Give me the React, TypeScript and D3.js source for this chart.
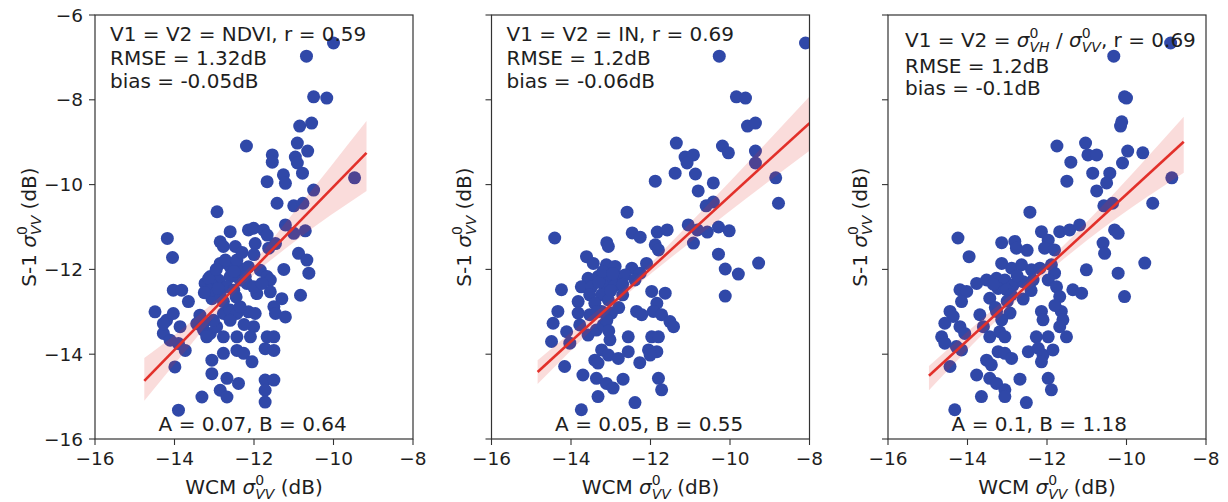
import React from "react";
import * as d3 from "d3";

// S-1 vs WCM backscatter, three model variants (dB)
const ndviPoints: [number, number][] = [
  [-10.0, -6.66], [-10.68, -6.97], [-10.5, -7.93], [-10.17, -7.96], [-10.85, -8.62], [-10.55, -8.55],
  [-12.19, -9.09], [-11.54, -9.3], [-11.54, -9.47], [-10.91, -9.02], [-10.65, -9.21], [-10.96, -9.35],
  [-10.91, -9.49], [-10.78, -9.73], [-11.26, -9.77], [-9.47, -9.84],
  [-11.67, -9.93], [-11.21, -9.97], [-10.5, -10.13], [-11.42, -10.44], [-11.0, -10.5], [-10.77, -10.44],
  [-12.93, -10.64], [-14.18, -11.27], [-14.05, -11.72], [-12.6, -11.11], [-12.14, -11.07], [-12.01, -11.03],
  [-11.76, -11.07], [-11.67, -11.19], [-11.21, -10.95], [-11.0, -11.15], [-10.71, -11.09], [-12.85, -11.35],
  [-12.77, -11.46], [-12.47, -11.46], [-11.97, -11.39], [-11.63, -11.5], [-11.46, -11.39], [-10.88, -11.62],
  [-10.67, -11.78], [-10.62, -12.09], [-11.25, -12.0], [-12.85, -11.86], [-12.6, -11.94], [-12.35, -11.98],
  [-12.14, -11.94], [-11.84, -12.02], [-13.1, -12.17], [-12.89, -12.25], [-12.6, -12.17], [-12.35, -12.25],
  [-12.18, -12.33], [-11.67, -12.17], [-11.59, -12.25], [-13.23, -12.33], [-13.02, -12.41], [-12.68, -12.41],
  [-12.51, -12.49], [-11.93, -12.57], [-11.59, -12.53], [-11.3, -12.69], [-10.83, -12.61], [-14.03, -12.49],
  [-13.82, -12.49], [-13.65, -12.76], [-13.06, -12.69], [-12.85, -12.61], [-14.49, -13.0], [-14.2, -13.2],
  [-14.03, -13.04], [-13.86, -13.35], [-14.28, -13.51], [-14.11, -13.67], [-13.9, -13.75], [-13.73, -13.91],
  [-13.36, -13.08], [-13.27, -13.43], [-13.1, -13.51], [-12.94, -13.35], [-12.77, -13.04], [-12.6, -12.96],
  [-12.43, -13.04], [-12.14, -13.0], [-11.97, -13.04], [-12.01, -13.35], [-11.5, -12.88], [-11.46, -13.04],
  [-11.21, -13.12], [-12.77, -13.59], [-12.43, -13.59], [-12.09, -13.59], [-11.67, -13.59], [-11.5, -13.59],
  [-11.72, -13.87], [-11.5, -13.91], [-12.77, -13.98], [-12.43, -13.91], [-12.26, -13.98], [-12.05, -14.18],
  [-13.06, -14.14], [-13.06, -14.46], [-12.68, -14.57], [-12.39, -14.69], [-11.72, -14.61], [-11.5, -14.61],
  [-13.99, -14.3], [-13.31, -15.01], [-12.85, -14.85], [-12.68, -15.01], [-11.72, -14.85], [-11.72, -15.13],
  [-13.9, -15.32], [-13.14, -12.21], [-12.72, -11.78], [-12.43, -11.78], [-12.22, -12.17], [-12.01, -12.41],
  [-11.8, -12.33], [-13.1, -12.49], [-12.77, -12.76], [-12.6, -13.2], [-12.35, -12.88], [-13.02, -13.2],
  [-13.44, -13.28], [-13.19, -13.59], [-14.28, -13.28], [-12.95, -12.0], [-12.5, -12.05], [-12.9, -12.45],
  [-12.45, -12.65], [-13.25, -12.55], [-12.3, -11.6], [-12.0, -11.65], [-13.25, -13.25], [-12.25, -13.3],
];

const inPoints: [number, number][] = [
  [-8.1, -6.66], [-10.27, -6.97], [-9.84, -7.93], [-9.61, -7.96], [-9.56, -8.62], [-9.36, -8.55],
  [-11.35, -9.02], [-10.19, -9.09], [-10.04, -9.25], [-9.36, -9.21], [-9.36, -9.49], [-11.13, -9.35],
  [-10.92, -9.3], [-11.08, -9.49], [-11.38, -9.73], [-10.87, -9.75], [-11.88, -9.92], [-10.42, -9.96],
  [-10.8, -10.15], [-8.85, -9.84], [-8.78, -10.44], [-10.6, -10.5], [-10.42, -10.41], [-12.59, -10.65],
  [-14.41, -11.26], [-12.46, -11.14], [-12.26, -11.24], [-11.83, -11.12], [-11.58, -11.07], [-11.05, -10.95],
  [-10.82, -11.07], [-10.57, -11.12], [-10.29, -11.0], [-10.02, -11.09], [-13.1, -11.37], [-11.88, -11.42],
  [-10.92, -11.38], [-10.29, -11.64], [-9.28, -11.85], [-10.12, -11.99], [-9.79, -12.11], [-10.12, -12.63],
  [-13.06, -11.46], [-11.8, -11.54], [-13.61, -11.7], [-13.44, -11.86], [-13.11, -11.89], [-12.89, -11.93],
  [-12.47, -11.97], [-12.26, -12.09], [-12.1, -11.86], [-13.57, -12.21], [-13.32, -12.17], [-13.06, -12.25],
  [-12.81, -12.17], [-12.64, -12.13], [-12.39, -12.25], [-13.74, -12.41], [-13.48, -12.41], [-13.15, -12.41],
  [-12.89, -12.37], [-14.24, -12.48], [-13.82, -12.76], [-13.53, -12.6], [-13.23, -12.6], [-13.06, -12.72],
  [-11.97, -12.52], [-11.63, -12.56], [-11.84, -12.8], [-14.33, -12.99], [-13.82, -13.03], [-13.53, -13.07],
  [-13.23, -12.99], [-12.98, -13.03], [-12.35, -12.99], [-12.22, -13.07], [-11.93, -12.99], [-11.72, -13.07],
  [-11.51, -13.23], [-11.42, -13.35], [-14.45, -13.27], [-14.11, -13.47], [-13.78, -13.31], [-13.57, -13.55],
  [-13.36, -13.43], [-13.19, -13.31], [-13.02, -13.66], [-14.49, -13.7], [-14.03, -13.74], [-12.56, -13.59],
  [-11.97, -13.59], [-11.8, -13.59], [-13.23, -13.9], [-13.06, -14.02], [-12.56, -13.94], [-12.05, -13.9],
  [-11.84, -13.94], [-12.01, -14.02], [-12.81, -14.1], [-13.4, -14.14], [-13.32, -14.21], [-12.27, -14.2],
  [-14.16, -14.29], [-13.7, -14.49], [-13.36, -14.57], [-13.11, -14.69], [-12.69, -14.59], [-12.94, -14.8],
  [-11.8, -14.57], [-11.72, -14.84], [-13.32, -15.0], [-12.39, -15.14], [-13.74, -15.31],
  [-13.3, -12.3], [-13.0, -12.5], [-12.7, -12.6], [-13.4, -12.8], [-13.1, -13.2], [-12.8, -12.9],
  [-13.2, -12.05], [-12.95, -12.1], [-13.35, -13.0], [-13.05, -13.45], [-12.7, -12.35],
];

const ratioPoints: [number, number][] = [
  [-8.89, -6.66], [-10.32, -6.97], [-10.05, -7.93], [-10.0, -7.96], [-10.15, -8.62], [-10.12, -8.52],
  [-11.75, -9.09], [-11.03, -9.02], [-10.97, -9.3], [-10.75, -9.3], [-11.4, -9.47], [-9.97, -9.21],
  [-9.59, -9.25], [-10.1, -9.49], [-10.85, -9.73], [-11.5, -9.92], [-10.42, -9.73], [-10.5, -9.96],
  [-10.75, -10.15], [-8.86, -9.84], [-9.34, -10.44], [-10.57, -10.5], [-10.35, -10.44], [-12.43, -10.65],
  [-14.24, -11.26], [-13.96, -11.7], [-13.14, -11.37], [-12.81, -11.34], [-12.77, -11.5], [-12.14, -11.11],
  [-11.97, -11.31], [-11.68, -11.11], [-11.43, -11.07], [-11.18, -10.95], [-12.06, -11.5], [-11.81, -11.54],
  [-10.59, -11.38], [-10.55, -11.62], [-10.3, -11.07], [-10.21, -11.15], [-11.01, -12.01], [-10.21, -12.09],
  [-10.05, -12.64], [-9.54, -11.85], [-13.14, -11.86], [-12.89, -11.97], [-12.64, -11.89], [-12.39, -12.01],
  [-12.18, -11.97], [-11.89, -11.89], [-11.81, -12.09], [-13.77, -12.33], [-13.52, -12.25], [-13.27, -12.21],
  [-13.06, -12.25], [-12.85, -12.37], [-12.6, -12.29], [-12.35, -12.25], [-11.97, -12.25], [-14.19, -12.48],
  [-14.02, -12.52], [-14.15, -12.76], [-13.44, -12.68], [-13.23, -12.45], [-13.02, -12.48], [-11.76, -12.41],
  [-11.68, -12.64], [-11.35, -12.48], [-11.13, -12.56], [-14.44, -12.99], [-14.36, -13.11], [-14.57, -13.27],
  [-14.65, -13.59], [-14.57, -13.74], [-14.19, -13.35], [-14.07, -13.51], [-13.69, -13.07], [-13.27, -12.99],
  [-12.93, -13.03], [-13.14, -13.19], [-13.6, -13.35], [-13.44, -13.59], [-13.19, -13.47], [-13.06, -13.59],
  [-12.14, -12.99], [-12.1, -13.19], [-11.64, -12.99], [-11.6, -13.19], [-11.68, -13.35], [-11.51, -13.59],
  [-12.27, -13.59], [-11.97, -13.59], [-14.28, -13.82], [-14.15, -13.9], [-13.23, -13.94], [-13.06, -13.98],
  [-12.89, -14.1], [-12.47, -13.94], [-12.22, -13.86], [-12.1, -14.02], [-11.85, -13.9], [-12.14, -14.18],
  [-13.52, -14.14], [-13.4, -14.25], [-14.44, -14.29], [-13.77, -14.49], [-13.44, -14.57], [-13.27, -14.69],
  [-13.06, -14.84], [-13.06, -15.0], [-12.68, -14.59], [-11.97, -14.57], [-11.89, -14.84], [-13.65, -15.0],
  [-12.52, -15.14], [-14.32, -15.31], [-12.9, -12.6], [-12.6, -12.7], [-13.3, -12.9], [-12.4, -12.5],
  [-13.35, -12.35], [-12.75, -12.15], [-13.0, -12.75], [-11.8, -12.85], [-12.5, -11.55],
];

// fitted line ends and confidence band
const ndviFit: [number, number][] = [[-14.76, -14.63], [-9.17, -9.25]];
const inFit: [number, number][] = [[-14.84, -14.42], [-8.0, -8.55]];
const ratioFit: [number, number][] = [[-14.97, -14.51], [-8.56, -8.99]];

const ndviBand = { x: [-14.76, -13.5, -12.3, -11.0, -9.17], hi: [-14.09, -13.17, -12.14, -10.66, -8.5], lo: [-15.1, -13.67, -12.38, -11.36, -10.15] };
const inBand = { x: [-14.84, -13.5, -12.6, -11.0, -8.0], hi: [-14.14, -13.1, -12.4, -10.9, -7.92], lo: [-14.7, -13.44, -12.6, -11.36, -9.2] };
const ratioBand = { x: [-14.97, -13.5, -12.5, -11.0, -8.56], hi: [-14.28, -13.06, -12.26, -10.88, -8.4], lo: [-14.85, -13.42, -12.5, -11.32, -9.72] };

const xTicks = [-16, -14, -12, -10, -8];
const yTicks = [-16, -14, -12, -10, -8, -6];

const stats = [
  { head: "NDVI", r: "0.59", rmse: "1.32dB", bias: "-0.05dB", ab: "A = 0.07, B = 0.64" },
  { head: "IN", r: "0.69", rmse: "1.2dB", bias: "-0.06dB", ab: "A = 0.05, B = 0.55" },
  { head: "ratio", r: "0.69", rmse: "1.2dB", bias: "-0.1dB", ab: "A = 0.1, B = 1.18" },
];

const W = 1228, H = 502;
const panelLeft = [95, 491.5, 888];
const panelW = 318;
const top = 15, bottom = 439;
const dot = "#3048a8";
const red = "#e2302a";
const ink = "#1e1e1e";
const FONT = "DejaVu Sans, sans-serif";

// sigma with stacked 0 and subscript (matplotlib mathtext look); `after` goes back on the baseline
function Sigma({ sub, after }: { sub: string; after: string }) {
  return (
    <>
      <tspan fontStyle="italic">σ</tspan>
      <tspan fontSize={14} dy={-9}>0</tspan>
      <tspan fontSize={14} fontStyle="italic" dx={-8.9} dy={14}>{sub}</tspan>
      <tspan dy={-5}>{after}</tspan>
    </>
  );
}

function Panel({ idx, pts, fit, band }: { idx: number; pts: [number, number][]; fit: [number, number][]; band: { x: number[]; hi: number[]; lo: number[] } }) {
  const left = panelLeft[idx];
  const x = d3.scaleLinear().domain([-16, -8]).range([left, left + panelW]);
  const y = d3.scaleLinear().domain([-16, -6]).range([bottom, top]);
  const s = stats[idx];

  const area = d3.area<number>()
    .x((d) => x(band.x[d]))
    .y0((d) => y(band.lo[d]))
    .y1((d) => y(band.hi[d]))
    .curve(d3.curveMonotoneX);
  const line = d3.line<[number, number]>().x((d) => x(d[0])).y((d) => y(d[1]));

  const clipId = `clip${idx}`;
  const cx = left + panelW / 2;
  const lines = idx === 2 ? [47, 73, 95] : [41, 65, 88];
  const tx = left + (idx === 2 ? 17 : 15);

  return (
    <g>
      <clipPath id={clipId}>
        <rect x={left} y={top} width={panelW} height={bottom - top} />
      </clipPath>
      <g clipPath={`url(#${clipId})`}>
        {pts.map((p, i) => (
          <circle key={i} cx={x(p[0])} cy={y(p[1])} r={6.5} fill={dot} />
        ))}
        <path d={area(d3.range(band.x.length)) || ""} fill={red} fillOpacity={0.17} />
        <path d={line(fit) || ""} stroke={red} strokeWidth={2.6} fill="none" />
      </g>
      <rect x={left} y={top} width={panelW} height={bottom - top} fill="none" stroke="#333" strokeWidth={1.2} />

      {xTicks.map((t) => (
        <g key={t}>
          <line x1={x(t)} x2={x(t)} y1={bottom} y2={bottom + 6} stroke="#333" strokeWidth={1.1} />
          <text x={x(t)} y={465} textAnchor="middle" fontSize={18.5} fill={ink}>{`\u2212${-t}`}</text>
        </g>
      ))}
      {yTicks.map((t) => (
        <g key={t}>
          <line x1={left - 6} x2={left} y1={y(t)} y2={y(t)} stroke="#333" strokeWidth={1.1} />
          {idx === 0 && (
            <text x={left - 12} y={y(t)} dy="0.36em" textAnchor="end" fontSize={18.5} fill={ink}>{`\u2212${-t}`}</text>
          )}
        </g>
      ))}

      <text x={cx} y={494} textAnchor="middle" fontSize={20} fill={ink}>
        WCM <Sigma sub="VV" after=" (dB)" />
      </text>
      <text transform={`translate(${left - (idx === 0 ? 59 : 21)},${(top + bottom) / 2}) rotate(-90)`} textAnchor="middle" fontSize={20} fill={ink}>
        S-1 <Sigma sub="VV" after=" (dB)" />
      </text>

      <text x={tx} y={lines[0]} fontSize={20} fill={ink}>
        {idx === 2 ? (
          <>V1 = V2 = <Sigma sub="VH" after=" / " /><Sigma sub="VV" after={`, r = ${s.r}`} /></>
        ) : (
          `V1 = V2 = ${s.head}, r = ${s.r}`
        )}
      </text>
      <text x={tx} y={lines[1]} fontSize={20} fill={ink}>{`RMSE = ${s.rmse}`}</text>
      <text x={tx} y={lines[2]} fontSize={20} fill={ink}>{`bias = ${s.bias}`}</text>
      <text x={left + panelW * 0.2} y={431} fontSize={20} fill={ink}>{s.ab}</text>
    </g>
  );
}

export default function App() {
  return (
    <div style={{ position: "absolute", left: 0, top: 0 }}>
      <svg width={W} height={H} style={{ display: "block", background: "#fff" }} fontFamily={FONT}>
        <Panel idx={0} pts={ndviPoints} fit={ndviFit} band={ndviBand} />
        <Panel idx={1} pts={inPoints} fit={inFit} band={inBand} />
        <Panel idx={2} pts={ratioPoints} fit={ratioFit} band={ratioBand} />
      </svg>
    </div>
  );
}
